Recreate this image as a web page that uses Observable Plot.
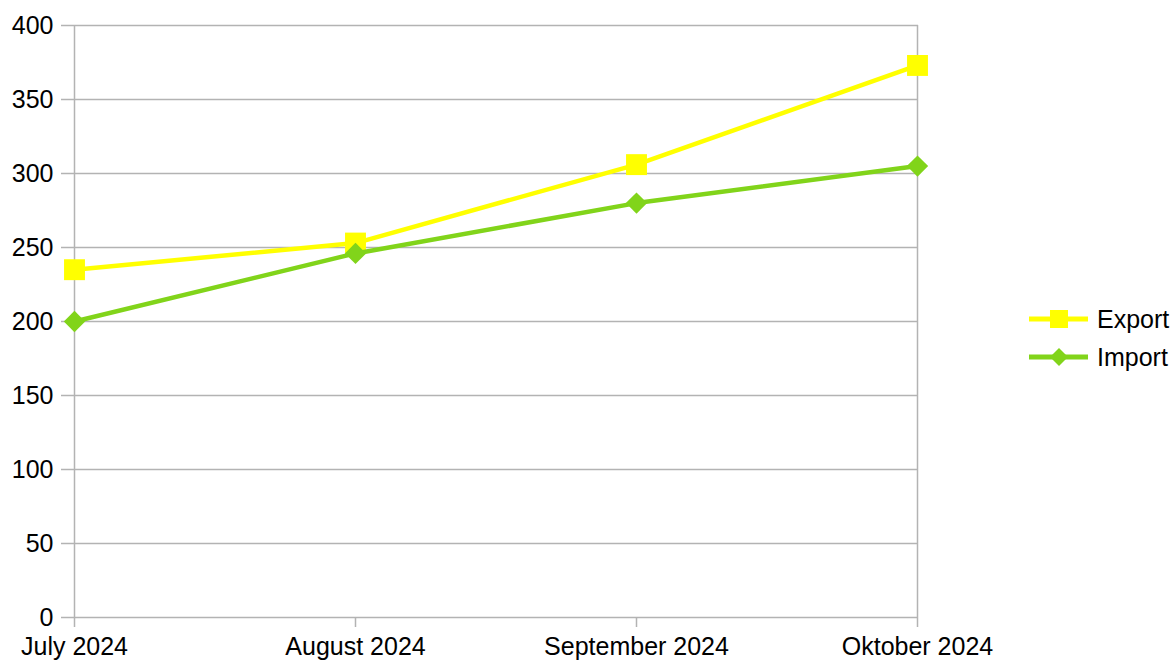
<!DOCTYPE html>
<html>
<head>
<meta charset="utf-8">
<script src="https://cdn.jsdelivr.net/npm/d3@7"></script>
<script src="https://cdn.jsdelivr.net/npm/@observablehq/plot@0.6"></script>
<style>
  html, body { margin: 0; padding: 0; background: #fff; }
  #wrap { position: relative; width: 1174px; height: 661px; font-family: "Liberation Sans", Arial, sans-serif; }
  #legend { position: absolute; left: 1029px; top: 295px; }
</style>
</head>
<body>
<div id="wrap"></div>
<script>
const months = ["July 2024", "August 2024", "September 2024", "Oktober 2024"];
const exportValues = [235, 253, 306, 373];
const importValues = [200, 246, 280, 305];
const yTicks = [0, 50, 100, 150, 200, 250, 300, 350, 400];
const seriesNames = ["Export", "Import"];
const seriesColors = ["#ffff00", "#81d41a"];
const seriesSymbols = ["square", "diamond2"];

const exportData = months.map((m, i) => ({month: m, value: exportValues[i]}));
const importData = months.map((m, i) => ({month: m, value: importValues[i]}));

const grey = "#b3b3b3";
const chart = Plot.plot({
  width: 1174,
  height: 661,
  marginLeft: 73,
  marginRight: 256,
  marginTop: 25,
  marginBottom: 44,
  style: {fontFamily: "'Liberation Sans', Arial, sans-serif", fontSize: "25px", color: "#000", background: "#fff"},
  x: {type: "point", domain: months, padding: 0, label: null},
  y: {domain: [0, 400], label: null},
  marks: [
    Plot.gridY(yTicks, {stroke: grey, strokeOpacity: 1, strokeWidth: 1.5}),
    Plot.axisY(yTicks, {tickSize: 12, tickPadding: 8, stroke: grey, strokeOpacity: 1, strokeWidth: 1.5, fill: "#000", fontSize: 25, label: null}),
    Plot.ruleX([months[0], months[months.length - 1]], {y1: 0, y2: 400, stroke: grey, strokeWidth: 1.5}),
    Plot.axisX({tickSize: 10, tickPadding: 10, stroke: grey, strokeOpacity: 1, strokeWidth: 1.5, fill: "#000", fontSize: 25, label: null}),
    Plot.lineY(exportData, {x: "month", y: "value", stroke: seriesColors[0], strokeWidth: 4.5}),
    Plot.dot(exportData, {x: "month", y: "value", symbol: seriesSymbols[0], r: 11.8, fill: seriesColors[0], stroke: "none"}),
    Plot.lineY(importData, {x: "month", y: "value", stroke: seriesColors[1], strokeWidth: 4.5}),
    Plot.dot(importData, {x: "month", y: "value", symbol: seriesSymbols[1], r: 9.6, fill: seriesColors[1], stroke: "none"})
  ]
});
document.getElementById("wrap").appendChild(chart);

// Legend
const ns = "http://www.w3.org/2000/svg";
const leg = document.createElementNS(ns, "svg");
leg.setAttribute("id", "legend");
leg.setAttribute("width", 145);
leg.setAttribute("height", 80);
seriesNames.forEach((name, i) => {
  const yy = 24 + i * 38;
  const line = document.createElementNS(ns, "line");
  line.setAttribute("x1", 0); line.setAttribute("x2", 59);
  line.setAttribute("y1", yy); line.setAttribute("y2", yy);
  line.setAttribute("stroke", seriesColors[i]); line.setAttribute("stroke-width", 5);
  leg.appendChild(line);
  const sym = seriesSymbols[i] === "square" ? d3.symbolSquare : d3.symbolDiamond2;
  const size = seriesSymbols[i] === "square" ? 18 * 18 : 207;
  const p = document.createElementNS(ns, "path");
  p.setAttribute("d", d3.symbol(sym, size)());
  p.setAttribute("transform", `translate(30,${yy})`);
  p.setAttribute("fill", seriesColors[i]);
  leg.appendChild(p);
  const t = document.createElementNS(ns, "text");
  t.setAttribute("x", 68); t.setAttribute("y", yy);
  t.setAttribute("dy", "0.35em");
  t.setAttribute("font-size", 25);
  t.setAttribute("font-family", "'Liberation Sans', Arial, sans-serif");
  t.setAttribute("fill", "#000");
  t.textContent = name;
  leg.appendChild(t);
});
document.getElementById("wrap").appendChild(leg);
</script>
</body>
</html>
